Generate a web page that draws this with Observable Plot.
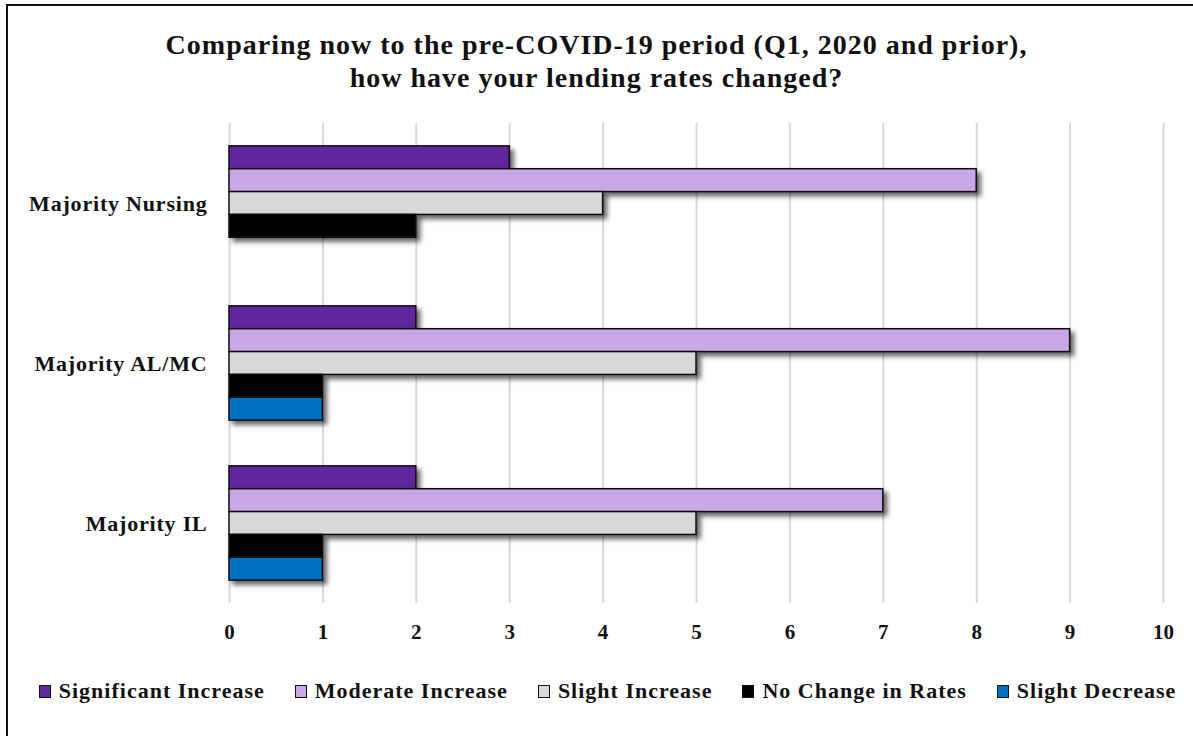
<!DOCTYPE html>
<html>
<head>
<meta charset="utf-8">
<script src="https://cdn.jsdelivr.net/npm/d3@7"></script>
<script src="https://cdn.jsdelivr.net/npm/@observablehq/plot@0.6"></script>
<style>
  html, body { margin: 0; padding: 0; background: #fff; }
  #wrap { position: relative; width: 1193px; height: 736px; overflow: hidden; background: #fff;
          font-family: "Liberation Serif", "DejaVu Serif", serif; }
  #border { position: absolute; left: 6px; top: 4px; width: 1220px; height: 760px; border: 2px solid #111; box-sizing: border-box; }
  #title { position: absolute; left: 0; top: 28px; width: 1193px; text-align: center; font-weight: bold;
           font-size: 28px; line-height: 33px; letter-spacing: 1px; color: #111; }
  #chart { position: absolute; left: 0; top: 110px; }
  #legend { position: absolute; left: 0; top: 678px; width: 1193px; display: flex; justify-content: center;
            gap: 30px; font-size: 22px; letter-spacing: 1px; font-weight: bold; color: #111; padding-left: 22px; box-sizing: border-box; }
  .item { display: flex; align-items: center; gap: 8px; white-space: nowrap; }
  .sw { width: 10px; height: 11px; border: 1.5px solid #111; display: inline-block; }
</style>
</head>
<body>
<div id="wrap">
  <div id="border"></div>
  <div id="title">Comparing now to the pre-COVID-19 period (Q1, 2020 and prior),<br>how have your lending rates changed?</div>
  <div id="chart"></div>
  <div id="legend"></div>
</div>
<script>
const categories = ["Majority Nursing", "Majority AL/MC", "Majority IL"];
const series = ["Significant Increase", "Moderate Increase", "Slight Increase", "No Change in Rates", "Slight Decrease"];
const colors = ["#61279D", "#C9A7E7", "#D9D9D9", "#000000", "#0070C0"];
const significantIncrease = [3, 2, 2];
const moderateIncrease = [8, 9, 7];
const slightIncrease = [4, 5, 5];
const noChangeInRates = [2, 1, 1];
const slightDecrease = [0, 1, 1];
const xTicks = [0, 1, 2, 3, 4, 5, 6, 7, 8, 9, 10];

const values = [significantIncrease, moderateIncrease, slightIncrease, noChangeInRates, slightDecrease];
const key = (c, s) => c + "|" + s;

const rows = [];
categories.forEach((c, ci) => series.forEach((s, si) => {
  rows.push({category: c, series: s, value: values[si][ci], key: key(c, s)});
}));

// band domain with spacer slots between category groups
const yDomain = ["pad-top"];
categories.forEach((c, ci) => {
  series.forEach(s => yDomain.push(key(c, s)));
  if (ci < categories.length - 1) { yDomain.push("gap-" + ci + "a"); yDomain.push("gap-" + ci + "b"); }
});
yDomain.push("pad-bottom");

const plot = Plot.plot({
  width: 1193,
  height: 540,
  marginLeft: 229,
  marginRight: 30,
  marginTop: 13,
  marginBottom: 47,
  style: {fontFamily: "'Liberation Serif', serif", background: "transparent"},
  x: {domain: [0, 10], ticks: xTicks, tickSize: 0, tickPadding: 21, label: null, tickFormat: d => d},
  y: {domain: yDomain, padding: 0, round: false, axis: null},
  color: {domain: series, range: colors},
  marks: [
    Plot.ruleX(xTicks, {stroke: "#d9d9d9", strokeWidth: 2}),
    Plot.barX(rows.filter(d => d.value > 0), {x: "value", y: "key", fill: "series", stroke: "#111", strokeWidth: 1.5}),
    Plot.text(categories, {y: d => key(d, "Slight Increase"), frameAnchor: "left", textAnchor: "end", dx: -22,
      text: d => d, fontSize: 22, fontWeight: "bold", fill: "#111"})
  ]
});
document.getElementById("chart").appendChild(plot);

// drop shadow on bars
const svg = d3.select(plot);
const defs = svg.insert("defs", ":first-child");
const f = defs.append("filter").attr("id", "shadow").attr("x", "-10%").attr("y", "-50%").attr("width", "130%").attr("height", "250%");
f.append("feDropShadow").attr("dx", 4).attr("dy", 4).attr("stdDeviation", 2.5).attr("flood-color", "#000").attr("flood-opacity", 0.6);
svg.selectAll('g[aria-label="bar"]').attr("filter", "url(#shadow)");
svg.selectAll('g[aria-label="text"]').attr("letter-spacing", "0.8px");
svg.selectAll('g[aria-label="x-axis tick label"] text, g[aria-label="x-axis tick label"]')
  .attr("font-size", 21).attr("font-weight", "bold").attr("fill", "#111");

// legend
const legend = d3.select("#legend");
series.forEach((s, i) => {
  const it = legend.append("div").attr("class", "item");
  it.append("span").attr("class", "sw").style("background", colors[i]);
  it.append("span").text(s);
});
</script>
</body>
</html>
